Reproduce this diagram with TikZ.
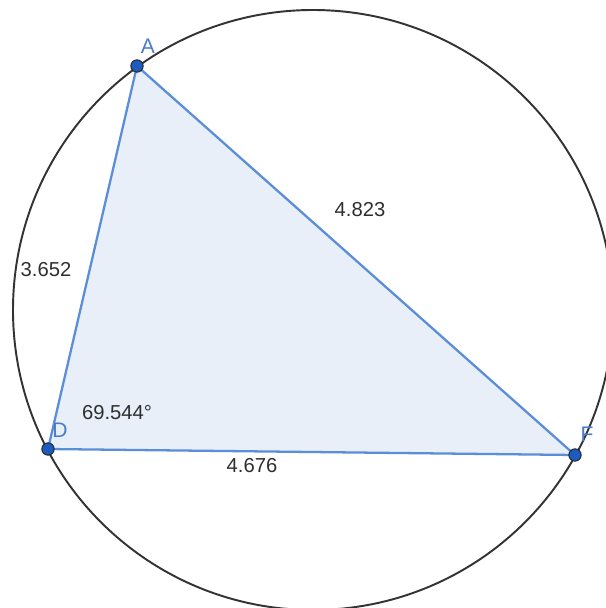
\documentclass[tikz,border=0pt]{standalone}
\usepackage{fontspec}
\setmainfont{Liberation Sans}
\usetikzlibrary{positioning,calc}
\definecolor{Ink}{HTML}{333333}
\definecolor{Edge}{HTML}{5B8ED8}
\definecolor{Face}{HTML}{E8EFF9}
\definecolor{Dot}{HTML}{1C5CBF}
\definecolor{Tag}{HTML}{4A7CC9}

\begin{document}
\begin{tikzpicture}[
    x=0.02cm, y=-0.02cm,
    pt/.style={circle, draw=Ink!80!black, fill=Dot, line width=0.6pt, inner sep=0pt, minimum size=7pt},
    tag/.style={text=Tag, fill=white, fill opacity=0, text opacity=1, font=\fontsize{12}{14}\selectfont},
    val/.style={text=Ink!90!black, font=\fontsize{11.5}{14}\selectfont},
    side/.style={draw=Edge, line width=1.3pt}
  ]
    \useasboundingbox (0,0) rectangle (605,608);
    % circumcircle
    \draw[Ink, line width=1.1pt] (313,310) circle[radius=300];

    \coordinate (A) at (137,66);
    \coordinate (D) at (48,449);
    \coordinate (F) at (575,455);

    % triangle
    \fill[Face] (A) -- (D) -- (F) -- cycle;
    \draw[side] (A) -- (D);
    \draw[side] (D) -- (F);
    \draw[side] (F) -- (A);

    \node[pt] (a) at (A) {};
    \node[pt] (d) at (D) {};
    \node[pt] (f) at (F) {};

    \node[tag] (la) at (148,46) {A};
    \node[tag] (ld) at (60,430) {D};
    \node[tag] (lf) at (587,434) {F};

    \node[val] (af) at (360,210) {4.823};
    \node[val] (ad) at (46,270) {3.652};
    \node[val] (ang) at (117,413) {69.544°};
    \node[val] (df) at (252,466) {4.676};
  \end{tikzpicture}
\end{document}
